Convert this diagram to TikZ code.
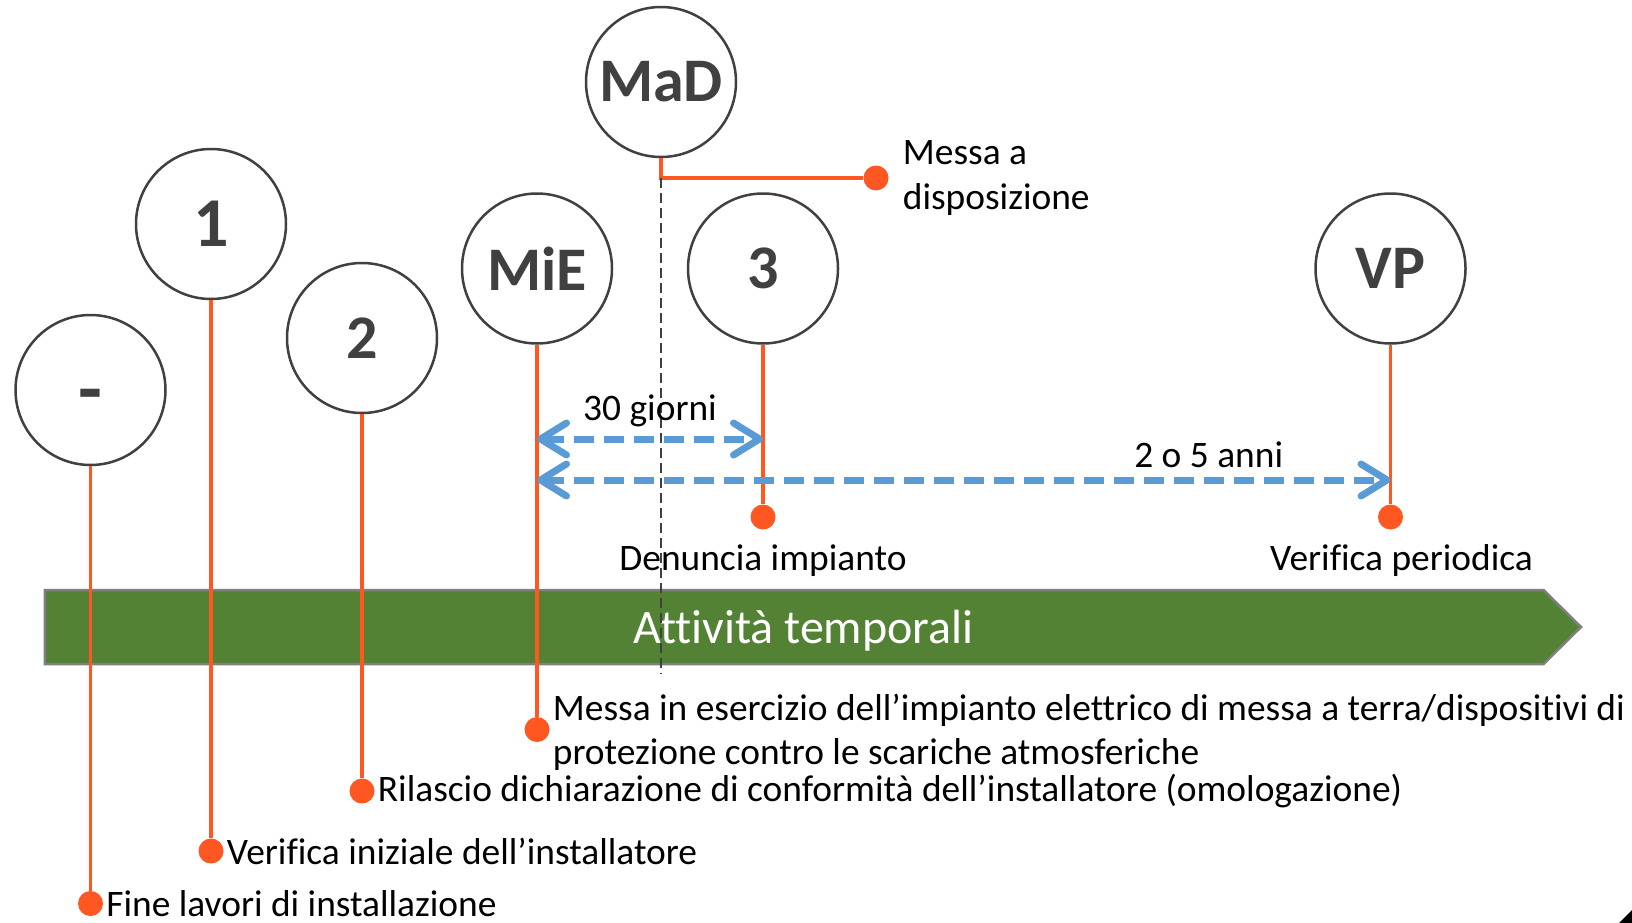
\documentclass[tikz,border=0pt]{standalone}
\usepackage{fontspec}
\setmainfont{Carlito}[Ligatures={NoCommon}]
\usetikzlibrary{positioning, arrows.meta}
\definecolor{ringgray}{HTML}{404040}
\definecolor{pinorange}{HTML}{FF5722}
\definecolor{spanblue}{HTML}{5B9BD5}
\definecolor{bargreen}{HTML}{548235}
\definecolor{bargray}{HTML}{7F7F7F}
\tikzset{
milestone/.style={ % Circles carrying the phase code
circle, draw=ringgray, line width=2.5pt,
minimum size=150pt, inner sep=0pt,
text=ringgray, font=\fontsize{62}{62}\selectfont\bfseries},
pin/.style={circle, fill=pinorange, minimum size=25pt, inner sep=0pt}, % Orange end dots
tick/.style={draw=pinorange, line width=3.5pt}, % Orange leader lines
caption/.style={inner sep=0pt, align=left, font=\fontsize{37.4}{44.5}\selectfont},
span/.style={ % Blue dashed time spans
draw=spanblue, line width=7pt, dash pattern=on 20pt off 10pt,
<->, >={Straight Barb[length=26pt,width=32pt,line cap=round,line join=round]}},
mark line/.style={draw=ringgray, line width=2.8pt, dash pattern=on 10pt off 5pt}}

\begin{document}
\begin{tikzpicture}[x=1pt, y=-1pt]

    \useasboundingbox (0,0) rectangle (1632,923);

    % time bar
    \draw[draw=bargray, fill=bargreen, line width=2.5pt]
        (44.8,590) -- (1543.5,590) -- (1581,627) -- (1543.5,664) -- (44.8,664) -- cycle;
    \node[text=white, font=\fontsize{48}{48}\selectfont] (bar) at (803.5,631) {Attività temporali};

    \node[milestone] (m0) at (90.5,390) {\raisebox{-25pt}[0pt][0pt]{\fontsize{78}{78}\selectfont -}};
    \node[milestone, font=\fontsize{70}{70}\selectfont\bfseries] (m1) at (211,224) {1};
    \node[milestone] (m2) at (362,338) {2};
    \node[milestone] (mie) at (537,268.5) {MiE};
    \node[milestone] (mad) at (661,82) {MaD};
    \node[milestone] (m3) at (763,268.5) {3};
    \node[milestone] (vp) at (1390.5,268.5) {VP};

    \node[pin] (d0) at (90.5,903.5) {};
    \node[pin] (d1) at (211,851) {};
    \node[pin] (d2) at (362,791) {};
    \node[pin] (dmie) at (537,729.5) {};
    \node[pin] (dmad) at (876,178) {};
    \node[pin] (d3) at (763,517) {};
    \node[pin] (dvp) at (1390.5,517) {};

    \node[caption, right=3pt of d0] (t0) {Fine lavori di installazione};
    \node[caption, right=3pt of d1] (t1) {Verifica iniziale dell’installatore};
    \node[caption, right=3pt of d2] (t2) {Rilascio dichiarazione di conformità dell’installatore (omologazione)};
    \node[caption, right=3pt of dmie, yshift=-3pt] (tmie) {Messa in esercizio dell’impianto elettrico di messa a terra/dispositivi di\\protezione contro le scariche atmosferiche};
    \node[caption, right=14pt of dmad] (tmad) {Messa a\\disposizione};
    \node[caption, below=15pt of d3] (t3) {Denuncia impianto};
    \node[caption, below=15pt of dvp, xshift=11pt] (tvp) {Verifica periodica};

    \draw[tick] (m0) -- (d0);
    \draw[tick] (m1) -- (d1);
    \draw[tick] (m2) -- (d2);
    \draw[tick] (mie) -- (dmie);
    \draw[tick] (m3) -- (d3);
    \draw[tick] (vp) -- (dvp);
    \draw[tick] (mad) |- (dmad);

    % MaD marker
    \coordinate (madtop) at (mad.south |- dmad);
    \coordinate (madend) at (661,674);
    \draw[mark line] (madtop) -- (madend);

    % spans
    \coordinate (s30a) at (mie.south |- 0,439);
    \coordinate (s30b) at (m3.south |- 0,439);
    \coordinate (svpa) at (mie.south |- 0,480);
    \coordinate (svpb) at (vp.south |- 0,480);
    \draw[span] (s30a) -- node[midway, yshift=28pt, text=black, font=\fontsize{37.4}{37.4}\selectfont] (l30) {30 giorni} (s30b);
    \draw[span] (svpa) -- node[pos=.787, yshift=25pt, text=black, font=\fontsize{37.4}{37.4}\selectfont] (lvp) {2 o 5 anni} (svpb);

    \fill (1619,923) -- (1632,910) -- (1632,923) -- cycle;

\end{tikzpicture}
\end{document}
